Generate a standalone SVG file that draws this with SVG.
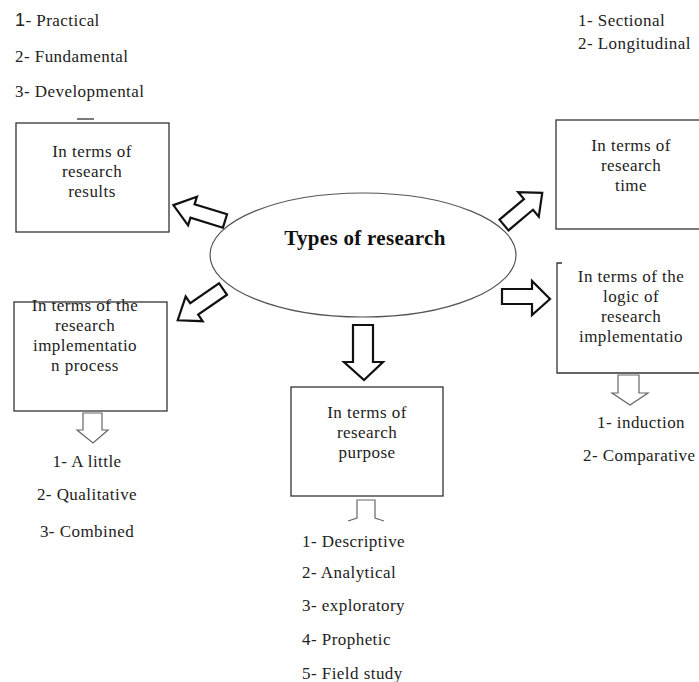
<svg xmlns="http://www.w3.org/2000/svg" width="699" height="682" viewBox="0 0 699 682" font-family="Liberation Serif, Times New Roman, serif">
<style>
  .t { font-size: 17px; fill: #222; letter-spacing: 0.45px; }
  .c { text-anchor: middle; }
  .title { font-size: 21px; font-weight: bold; fill: #111; letter-spacing: 0.3px; }
  .box { fill: #fff; stroke: #333; stroke-width: 1.3; }
  .bline { fill: none; stroke: #333; stroke-width: 1.3; }
  .big { fill: #fff; stroke: #111; stroke-width: 2.2; stroke-linejoin: miter; }
  .small { fill: #fff; stroke: #666; stroke-width: 1.2; stroke-linejoin: miter; }
  .sans { font-size: 18px; }
</style>
<rect width="699" height="682" fill="#fff"/>

<g id="center">
  <ellipse cx="363" cy="255" rx="153" ry="62" fill="#fff" stroke="#555" stroke-width="1.2"/>
  <text class="title c" x="365" y="245">Types of research</text>
</g>

<g id="connectors">
  <polygon class="big" transform="translate(225,221) rotate(197.1)" points="0,-7 34,-7 34,-15 54,0 34,15 34,7 0,7"/>
  <polygon class="big" transform="translate(223,289) rotate(145.4)" points="0,-7 35,-7 35,-15 55,0 35,15 35,7 0,7"/>
  <polygon class="big" transform="translate(504,225) rotate(-40.1)" points="0,-7 32,-7 32,-16 50,0 32,16 32,7 0,7"/>
  <polygon class="big" points="502,289 532,289 532,281 550,299 532,315 532,304 502,304"/>
  <polygon class="big" points="353,325 373,325 373,362 383,362 364,380 344,362 353,362"/>
  <polygon class="small" points="83,413 102,413 102,430 108,430 93,443 77,430 83,430"/>
  <polygon class="small" points="618,375 639,375 639,393 648,393 630,405 612,393 618,393"/>
  <path class="small" d="M348,521 L357,518 L357,500 L375,500 L375,518 L384,521"/>
</g>

<g id="results">
  <text class="t" x="15" y="26"><tspan class="sans" font-family="Liberation Sans, Arial, sans-serif">1</tspan>- Practical</text>
  <text class="t" x="15" y="62">2- Fundamental</text>
  <text class="t" x="15" y="97">3- Developmental</text>
  <line x1="77" y1="119" x2="94" y2="119" stroke="#333" stroke-width="1.3"/>
  <rect class="box" x="16" y="123" width="153" height="109"/>
  <text class="t c" x="92" y="157">In terms of</text>
  <text class="t c" x="92" y="177">research</text>
  <text class="t c" x="92" y="197">results</text>
</g>

<g id="time">
  <text class="t" x="578" y="26">1- Sectional</text>
  <text class="t" x="578" y="49">2- Longitudinal</text>
  <rect class="box" x="556" y="120" width="150" height="109"/>
  <text class="t c" x="631" y="151">In terms of</text>
  <text class="t c" x="631" y="171">research</text>
  <text class="t c" x="631" y="191">time</text>
</g>

<g id="logic">
  <path class="bline" d="M562,263 L557,263 L557,373 L706,373"/>
  <text class="t c" x="631" y="282">In terms of the</text>
  <text class="t c" x="631" y="302">logic of</text>
  <text class="t c" x="631" y="322">research</text>
  <text class="t c" x="631" y="342">implementatio</text>
  <text class="t" x="597" y="428">1- induction</text>
  <text class="t" x="583" y="461">2- Comparative</text>
</g>

<g id="process">
  <rect class="box" x="14" y="302" width="153" height="109"/>
  <text class="t c" x="85" y="311">In terms of the</text>
  <text class="t c" x="85" y="331">research</text>
  <text class="t c" x="85" y="351">implementatio</text>
  <text class="t c" x="85" y="371">n process</text>
  <text class="t c" x="87" y="467">1- A little</text>
  <text class="t c" x="87" y="500">2- Qualitative</text>
  <text class="t c" x="87" y="537">3- Combined</text>
</g>

<g id="purpose">
  <rect class="box" x="291" y="387" width="152" height="109"/>
  <text class="t c" x="367" y="418">In terms of</text>
  <text class="t c" x="367" y="438">research</text>
  <text class="t c" x="367" y="458">purpose</text>
  <text class="t" x="302" y="547">1- Descriptive</text>
  <text class="t" x="302" y="578">2- Analytical</text>
  <text class="t" x="302" y="611">3- exploratory</text>
  <text class="t" x="302" y="645">4- Prophetic</text>
  <text class="t" x="302" y="679">5- Field study</text>
</g>
</svg>
